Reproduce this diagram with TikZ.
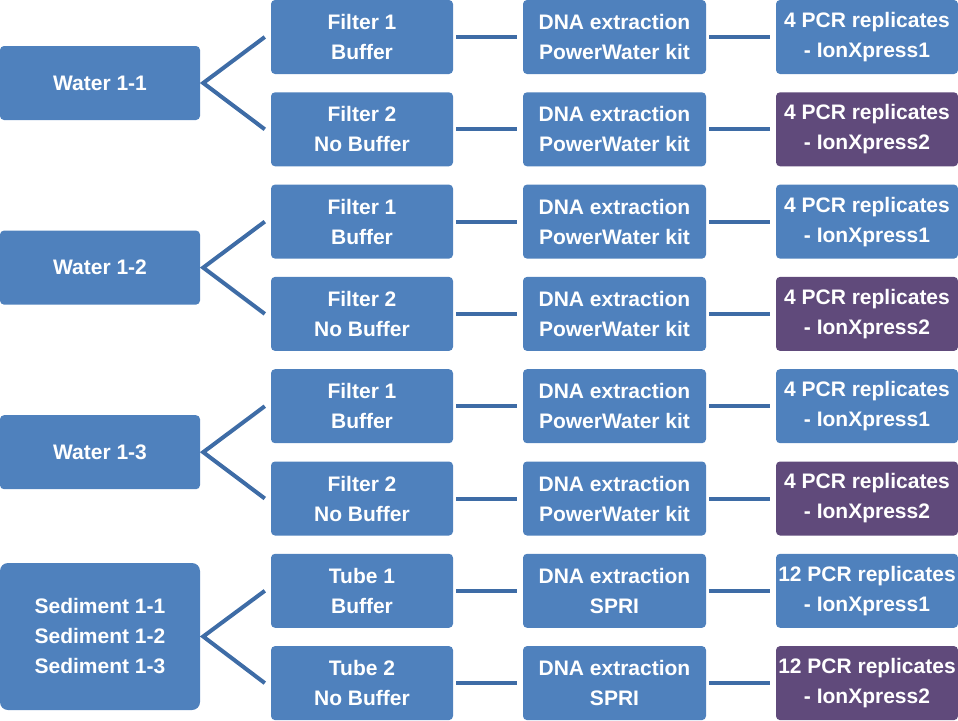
\documentclass[tikz,border=0pt]{standalone}
\usepackage{fontspec}
\setmainfont{Liberation Sans}
\usetikzlibrary{calc}
\definecolor{boxblue}{HTML}{4F81BD}
\definecolor{boxpurple}{HTML}{604A7B}
\definecolor{linkblue}{HTML}{3E6CA6}
\begin{document}
\begin{tikzpicture}[x=1pt,y=-1pt,
  box/.style={fill=boxblue, rounded corners=4pt, text=white, align=center,
    font=\fontsize{21}{30}\selectfont\bfseries, inner sep=0pt,
    minimum height=74pt},
  colA/.style={box, minimum width=200pt},
  colB/.style={box, minimum width=182pt},
  colC/.style={box, minimum width=183pt},
  colD/.style={box, minimum width=182pt},
  purp/.style={fill=boxpurple},
  conn/.style={draw=linkblue, line width=4pt}]
\useasboundingbox (0,0) rectangle (958,720);
\def\rowtop#1{#1*92.3}
% rows
\foreach \i/\b/\c/\d/\p in {
  0/{Filter 1\\Buffer}/{DNA extraction\\PowerWater kit}/{4 PCR replicates\\- IonXpress1}/0,
  1/{Filter 2\\No Buffer}/{DNA extraction\\PowerWater kit}/{4 PCR replicates\\- IonXpress2}/1,
  2/{Filter 1\\Buffer}/{DNA extraction\\PowerWater kit}/{4 PCR replicates\\- IonXpress1}/0,
  3/{Filter 2\\No Buffer}/{DNA extraction\\PowerWater kit}/{4 PCR replicates\\- IonXpress2}/1,
  4/{Filter 1\\Buffer}/{DNA extraction\\PowerWater kit}/{4 PCR replicates\\- IonXpress1}/0,
  5/{Filter 2\\No Buffer}/{DNA extraction\\PowerWater kit}/{4 PCR replicates\\- IonXpress2}/1,
  6/{Tube 1\\Buffer}/{DNA extraction\\SPRI}/{12 PCR replicates\\- IonXpress1}/0,
  7/{Tube 2\\No Buffer}/{DNA extraction\\SPRI}/{12 PCR replicates\\- IonXpress2}/1}
{
  \pgfmathsetmacro{\yc}{\i*92.3+37}
  \node[colB] (b\i) at (362,\yc) {\b};
  \node[colC] (c\i) at (614.5,\yc) {\c};
  \ifnum\p=1
    \node[colD,purp] (d\i) at (867,\yc) {\d};
  \else
    \node[colD] (d\i) at (867,\yc) {\d};
  \fi
  \draw[conn] ($(b\i.east)+(3,0)$) -- ($(c\i.west)+(-6,0)$);
  \draw[conn] ($(c\i.east)+(3,0)$) -- ($(d\i.west)+(-6,0)$);
}
% source boxes
\node[colA] (a0) at (100,83) {Water 1-1};
\node[colA] (a1) at (100,267.6) {Water 1-2};
\node[colA] (a2) at (100,452.2) {Water 1-3};
\node[colA, minimum height=147pt, rounded corners=8pt] (a3) at (100,636.5)
  {Sediment 1-1\\Sediment 1-2\\Sediment 1-3};
% branches
\foreach \a/\u/\l in {a0/b0/b1, a1/b2/b3, a2/b4/b5, a3/b6/b7}{
  \draw[conn] ($(\u.west)+(-6,0)$) -- ($(\a.east)+(3,0)$) -- ($(\l.west)+(-6,0)$);
}
\end{tikzpicture}
\end{document}
